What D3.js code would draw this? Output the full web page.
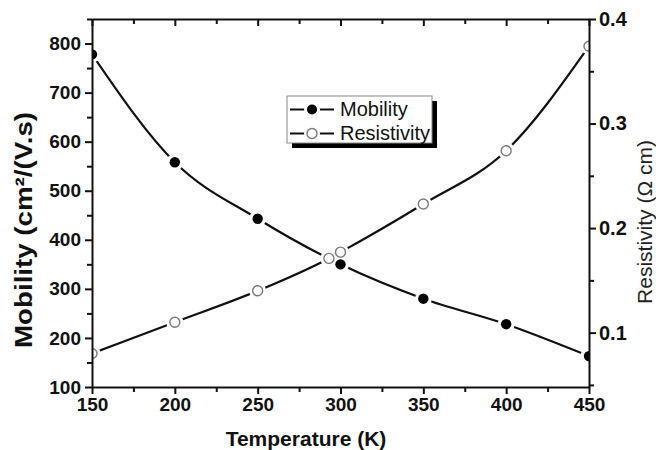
<!DOCTYPE html>
<html>
<head>
<meta charset="utf-8">
<script src="https://cdn.jsdelivr.net/npm/d3@7"></script>
<style>
  html, body { margin: 0; padding: 0; background: #fff; }
  svg { display: block; }
</style>
</head>
<body>
<svg id="chart" width="656" height="450"></svg>
<script>
// ---- data ----
const seriesNames = ["Mobility", "Resistivity"];
const mobilityTemps = [150, 200, 250, 300, 350, 400, 450];
const mobility = [778, 558, 443, 350, 280, 228, 163];
const resistivityTemps = [150, 200, 250, 293, 300, 350, 400, 450];
const resistivity = [0.080, 0.110, 0.140, 0.171, 0.177, 0.223, 0.274, 0.374];

const xMajorTicks = [150, 200, 250, 300, 350, 400, 450];
const xMinorTicks = [175, 225, 275, 325, 375, 425];
const yLeftMajorTicks = [100, 200, 300, 400, 500, 600, 700, 800];
const yLeftMinorTicks = [150, 250, 350, 450, 550, 650, 750, 850];
const yRightMajorTicks = [0.1, 0.2, 0.3, 0.4];
const yRightMinorTicks = [0.05, 0.15, 0.25, 0.35];

const xTitle = "Temperature (K)";
const yLeftTitle = "Mobility (cm\u00B2/(V.s)";
const yRightTitle = "Resistivity (\u03A9 cm)";

// ---- layout ----
const L = 92, R = 589, T = 19, B = 387;
const FONT = "'Liberation Sans', Arial, Helvetica, sans-serif";

const svg = d3.select("#chart");
svg.append("rect").attr("width", 656).attr("height", 450).attr("fill", "#fff");

const x = d3.scaleLinear().domain([150, 450]).range([L, R]);
const yL = d3.scaleLinear().domain([100, 850]).range([B, T]);
const yR = d3.scaleLinear().domain([0.048, 0.4]).range([B, T]);

// clip
svg.append("defs").append("clipPath").attr("id", "plotclip")
  .append("rect").attr("x", L).attr("y", T).attr("width", R - L).attr("height", B - T);

const plot = svg.append("g").attr("clip-path", "url(#plotclip)");

const mobPts = mobilityTemps.map((t, i) => [x(t), yL(mobility[i])]);
const resPts = resistivityTemps.map((t, i) => [x(t), yR(resistivity[i])]);

const line = d3.line().curve(d3.curveMonotoneX);

plot.append("path").attr("d", line(mobPts))
  .attr("fill", "none").attr("stroke", "#111").attr("stroke-width", 2.2);
plot.append("path").attr("d", line(resPts))
  .attr("fill", "none").attr("stroke", "#111").attr("stroke-width", 2.2);

// halos (gaps around symbols)
plot.selectAll("circle.halo")
  .data(mobPts.concat(resPts)).enter().append("circle")
  .attr("class", "halo")
  .attr("cx", d => d[0]).attr("cy", d => d[1]).attr("r", 8.5)
  .attr("fill", "#fff");

plot.selectAll("circle.mob")
  .data(mobPts).enter().append("circle")
  .attr("class", "mob")
  .attr("cx", d => d[0]).attr("cy", d => d[1]).attr("r", 5.2)
  .attr("fill", "#000");

plot.selectAll("circle.res")
  .data(resPts).enter().append("circle")
  .attr("class", "res")
  .attr("cx", d => d[0]).attr("cy", d => d[1]).attr("r", 5)
  .attr("fill", "#fff").attr("stroke", "#7a7a7a").attr("stroke-width", 1.4);

// ---- axes ----
function styleAxis(g, labelSize) {
  g.selectAll(".domain").attr("stroke", "#111").attr("stroke-width", 2);
  g.selectAll(".tick line").attr("stroke", "#111").attr("stroke-width", 2);
  g.selectAll(".tick text").attr("fill", "#111")
    .style("font-family", FONT).style("font-weight", "bold").style("font-size", labelSize + "px");
}

// bottom
const gB = svg.append("g").attr("transform", `translate(0,${B})`)
  .call(d3.axisBottom(x).tickValues(xMajorTicks).tickSize(7).tickSizeOuter(0).tickPadding(4).tickFormat(d3.format("d")));
styleAxis(gB, 19);
const gBm = svg.append("g").attr("transform", `translate(0,${B})`)
  .call(d3.axisBottom(x).tickValues(xMinorTicks).tickSize(5).tickSizeOuter(0).tickFormat(""));
gBm.select(".domain").remove();
styleAxis(gBm, 19);

// top (inward ticks)
const gT = svg.append("g").attr("transform", `translate(0,${T})`)
  .call(d3.axisTop(x).tickValues(xMajorTicks).tickSize(-7).tickSizeOuter(0).tickFormat(""));
styleAxis(gT, 19);
const gTm = svg.append("g").attr("transform", `translate(0,${T})`)
  .call(d3.axisTop(x).tickValues(xMinorTicks).tickSize(-5).tickSizeOuter(0).tickFormat(""));
gTm.select(".domain").remove();
styleAxis(gTm, 19);

// left
const gL = svg.append("g").attr("transform", `translate(${L},0)`)
  .call(d3.axisLeft(yL).tickValues(yLeftMajorTicks).tickSize(7).tickSizeOuter(0).tickPadding(4).tickFormat(d3.format("d")));
styleAxis(gL, 19);
const gLm = svg.append("g").attr("transform", `translate(${L},0)`)
  .call(d3.axisLeft(yL).tickValues(yLeftMinorTicks).tickSize(5).tickSizeOuter(0).tickFormat(""));
gLm.select(".domain").remove();
styleAxis(gLm, 19);

// right
const gR = svg.append("g").attr("transform", `translate(${R},0)`)
  .call(d3.axisRight(yR).tickValues(yRightMajorTicks).tickSize(7).tickSizeOuter(0).tickPadding(3).tickFormat(d3.format(".1f")));
styleAxis(gR, 20);
const gRm = svg.append("g").attr("transform", `translate(${R},0)`)
  .call(d3.axisRight(yR).tickValues(yRightMinorTicks).tickSize(5).tickSizeOuter(0).tickFormat(""));
gRm.select(".domain").remove();
styleAxis(gRm, 20);

// ---- titles ----
svg.append("text").text(xTitle)
  .attr("x", 306).attr("y", 446).attr("text-anchor", "middle")
  .attr("fill", "#111")
  .style("font-family", FONT).style("font-weight", "bold").style("font-size", "21px");

svg.append("text").text(yLeftTitle)
  .attr("transform", "translate(32,230) rotate(-90)")
  .attr("text-anchor", "middle").attr("fill", "#111")
  .attr("textLength", 236).attr("lengthAdjust", "spacingAndGlyphs")
  .style("font-family", FONT).style("font-weight", "bold").style("font-size", "24px");

svg.append("text").text(yRightTitle)
  .attr("transform", "translate(652,222) rotate(-90)")
  .attr("text-anchor", "middle").attr("fill", "#222")
  .style("font-family", FONT).style("font-size", "21px");

// ---- legend ----
const lg = svg.append("g");
lg.append("rect").attr("x", 292).attr("y", 101).attr("width", 145).attr("height", 47).attr("fill", "#000");
lg.append("rect").attr("x", 287).attr("y", 96).attr("width", 145).attr("height", 47)
  .attr("fill", "#fff").attr("stroke", "#888").attr("stroke-width", 1);

const legRows = [
  { name: seriesNames[0], y: 109.5, filled: true },
  { name: seriesNames[1], y: 133.5, filled: false }
];
legRows.forEach(r => {
  lg.append("line").attr("x1", 290).attr("x2", 334).attr("y1", r.y).attr("y2", r.y)
    .attr("stroke", "#111").attr("stroke-width", 2);
  lg.append("circle").attr("cx", 312).attr("cy", r.y).attr("r", 8).attr("fill", "#fff");
  const c = lg.append("circle").attr("cx", 312).attr("cy", r.y).attr("r", 5);
  if (r.filled) c.attr("fill", "#000");
  else c.attr("fill", "#fff").attr("stroke", "#7a7a7a").attr("stroke-width", 1.4);
  lg.append("text").text(r.name).attr("x", 340).attr("y", r.y + 6.8)
    .attr("fill", "#111")
    .style("font-family", FONT).style("font-size", "20px");
});
</script>
</body>
</html>
